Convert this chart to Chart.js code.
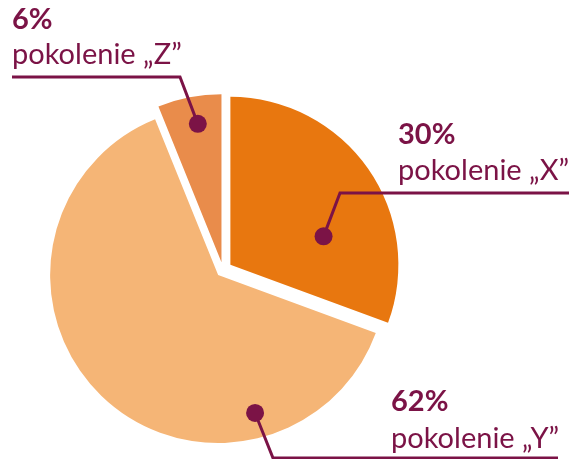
<!DOCTYPE html>
<html>
<head>
<meta charset="utf-8">
<script src="https://cdn.jsdelivr.net/npm/chart.js@4.4.0/dist/chart.umd.min.js"></script>
<style>
html,body{margin:0;padding:0;background:#fff;}
#wrap{width:571px;height:459px;}
</style>
</head>
<body>
<div id="wrap"><canvas id="myChart" width="571" height="459"></canvas></div>
<script>
// data
var categories = ['pokolenie \u201EX\u201D', 'pokolenie \u201EY\u201D', 'pokolenie \u201EZ\u201D'];
var shares = [30, 62, 6];
var shareLabels = ['30%', '62%', '6%'];
var sliceColors = ['#E8770F', '#F5B576', '#E98C4B'];

var purple = '#7B1346';
var explode = [9, 7, 8];   // px each slice is pulled out

// where the dot sits in each slice (deg from top, share of radius), and the text block
var callouts = [
  {deg: 73, r: 0.58, elbow: [340, 193], endX: 569, textX: 398, pctY: 144, nameY: 180},
  {deg: 165, r: 0.85, elbow: [273, 458], endX: 558, textX: 391, pctY: 411, nameY: 448},
  {deg: 350.3, r: 0.835, elbow: [180, 77], endX: 12, textX: 12, pctY: 29, nameY: 64}
];

explodePlugin = {
  id: 'explode',
  afterDatasetsUpdate: function (chart) {
    chart.getDatasetMeta(0).data.forEach(function (arc, i) {
      var mid = (arc.startAngle + arc.endAngle) / 2;
      arc.x += Math.cos(mid) * explode[i];
      arc.y += Math.sin(mid) * explode[i];
    });
  }
};

calloutPlugin = {
  id: 'callouts',
  afterDatasetsDraw: function (chart) {
    var ctx = chart.ctx;
    chart.getDatasetMeta(0).data.forEach(function (arc, i) {
      var c = callouts[i];
      var a = c.deg * Math.PI / 180;
      var dx = arc.x + Math.sin(a) * arc.outerRadius * c.r;
      var dy = arc.y - Math.cos(a) * arc.outerRadius * c.r;
      ctx.save();
      ctx.strokeStyle = purple;
      ctx.fillStyle = purple;
      ctx.lineWidth = 3;
      ctx.beginPath();
      ctx.moveTo(dx, dy);
      ctx.lineTo(c.elbow[0], c.elbow[1]);
      ctx.lineTo(c.endX, c.elbow[1]);
      ctx.stroke();
      ctx.beginPath();
      ctx.arc(dx, dy, 9, 0, Math.PI * 2);
      ctx.fill();
      ctx.textAlign = 'left';
      ctx.textBaseline = 'alphabetic';
      ctx.font = 'bold 29px Lato';
      ctx.fillText(shareLabels[i], c.textX, c.pctY);
      ctx.font = '29px Lato';
      ctx.fillText(categories[i], c.textX, c.nameY);
      ctx.restore();
    });
  }
};

var myChart = new Chart(document.getElementById('myChart').getContext('2d'), {
  type: 'pie',
  data: {
    labels: categories,
    datasets: [{
      data: shares,
      backgroundColor: sliceColors,
      borderWidth: 0
    }]
  },
  options: {
    responsive: false,
    animation: false,
    events: [],
    radius: 168,
    layout: {padding: {left: 0, right: 125, top: 81, bottom: 0}},
    plugins: {legend: {display: false}, tooltip: {enabled: false}}
  },
  plugins: [explodePlugin, calloutPlugin]
});
</script>
</body>
</html>
